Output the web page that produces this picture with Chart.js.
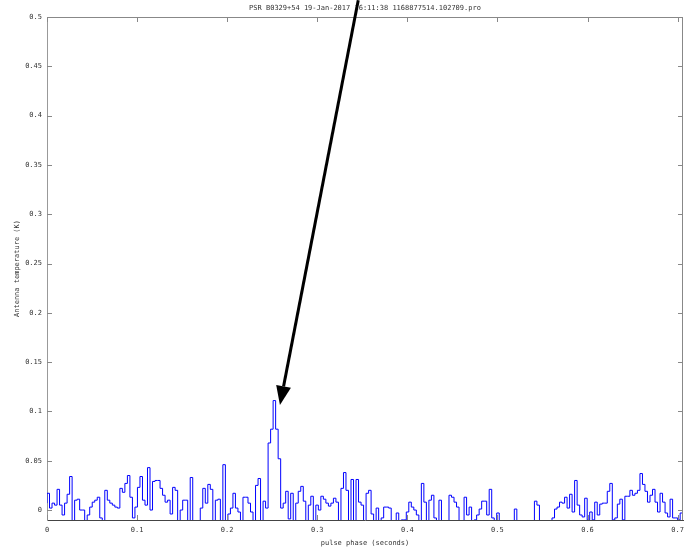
<!DOCTYPE html>
<html>
<head>
<meta charset="utf-8">
<script src="https://cdn.jsdelivr.net/npm/chart.js@4.4.1/dist/chart.umd.min.js"></script>
<style>
  html, body { margin: 0; padding: 0; background: #fff; }
  #caixa { width: 684px; height: 552px; }
</style>
</head>
<body>
<div id="caixa"><canvas id="pulsar"></canvas></div>
<script>
// Dados (temperatura por bin de fase)
const titulo = 'PSR B0329+54 19-Jan-2017 16:11:38 1168877514.102709.pro';
const tituloX = 'pulse phase (seconds)';
const tituloY = 'Antenna temperature (K)';
const passoBin = 0.002789; // segundos por bin
const temperaturas = [
  0.007, 0.017, 0.002, 0.007, 0.005, 0.021, 0.005, -0.005, 0.007, 0.016,
  0.034, -0.012, 0.010, 0.011, 0.000, 0.000, -0.012, -0.005, 0.003, 0.008,
  0.010, 0.013, -0.008, -0.012, 0.020, 0.010, 0.007, 0.005, 0.003, 0.002,
  0.022, 0.018, 0.027, 0.035, 0.013, -0.008, 0.003, 0.023, 0.034, 0.010,
  0.005, 0.043, 0.000, 0.029, 0.030, 0.030, 0.022, 0.015, 0.008, 0.010,
  -0.004, 0.023, 0.020, -0.012, 0.000, 0.010, 0.010, -0.012, 0.033, -0.012,
  -0.012, -0.012, 0.002, 0.022, 0.007, 0.026, 0.021, -0.012, 0.010, 0.011,
  -0.012, 0.046, -0.012, -0.004, 0.002, 0.017, 0.002, -0.002, -0.012, 0.013,
  0.013, 0.007, -0.002, -0.012, 0.025, 0.032, -0.012, 0.009, 0.002, 0.068,
  0.082, 0.111, 0.082, 0.052, 0.002, 0.007, 0.019, -0.009, 0.017, -0.012,
  0.007, 0.019, 0.024, 0.009, -0.012, 0.005, 0.014, -0.012, 0.005, 0.000,
  0.014, 0.011, 0.007, 0.004, 0.007, 0.012, 0.008, -0.012, 0.022, 0.038,
  0.020, -0.012, 0.031, -0.012, 0.031, 0.008, 0.005, -0.012, 0.017, 0.020,
  -0.004, -0.012, 0.002, -0.012, -0.008, 0.003, 0.003, 0.002, -0.012, -0.012,
  -0.003, -0.012, -0.010, -0.010, -0.002, 0.008, 0.003, 0.000, -0.005, -0.012,
  0.027, 0.008, -0.012, 0.010, 0.015, -0.008, -0.012, 0.010, -0.012, -0.012,
  -0.012, 0.015, 0.013, 0.008, 0.003, -0.012, -0.012, 0.013, -0.005, 0.003,
  -0.012, -0.010, -0.005, 0.001, 0.009, 0.009, -0.005, 0.021, -0.008, -0.012,
  -0.003, -0.012, -0.012, -0.012, -0.012, -0.012, -0.012, 0.001, -0.012, -0.012,
  -0.012, -0.012, -0.012, -0.012, -0.012, 0.009, 0.005, -0.012, -0.012, -0.012,
  -0.012, -0.012, -0.008, 0.001, 0.003, 0.008, 0.007, 0.013, 0.002, 0.016,
  -0.002, 0.030, 0.005, -0.005, -0.007, 0.012, -0.010, -0.002, -0.010, 0.008,
  -0.005, 0.006, 0.007, 0.007, 0.019, 0.027, -0.010, -0.008, 0.006, 0.011,
  -0.010, 0.014, 0.014, 0.020, 0.015, 0.017, 0.020, 0.037, 0.026, 0.019,
  0.008, 0.015, 0.021, 0.008, -0.002, 0.017, 0.008, -0.003, -0.007, 0.011,
  -0.008, -0.008, -0.010, -0.003
];
const ticksX = [0, 0.1, 0.2, 0.3, 0.4, 0.5, 0.6, 0.7];
const ticksY = [0, 0.05, 0.1, 0.15, 0.2, 0.25, 0.3, 0.35, 0.4, 0.45, 0.5];
const faixaX = [0, 0.706];
const faixaY = [-0.0101, 0.5];
// seta em coordenadas de dados: [fase, temperatura]
const setaInicio = [0.3455, 0.517];
const setaFim = [0.2586, 0.1065];

const fonte = { family: 'DejaVu Sans Mono', size: 7 };
const corTexto = '#333';

// pontos do histograma (degraus)
const pontos = temperaturas.map((t, i) => ({ x: i * passoBin, y: t }));
pontos.push({ x: temperaturas.length * passoBin, y: temperaturas[temperaturas.length - 1] });

// ticks para dentro, moldura, título e seta
const extras = {
  id: 'extras',
  afterDatasetsDraw(chart) {
    const ctx = chart.ctx;
    const a = chart.chartArea;
    const sx = chart.scales.x, sy = chart.scales.y;
    ctx.save();
    ctx.strokeStyle = '#888';
    ctx.lineWidth = 1;
    ctx.beginPath();
    ctx.moveTo(a.left + 0.5, a.top + 0.5);
    ctx.lineTo(a.right - 0.5, a.top + 0.5);
    ctx.lineTo(a.right - 0.5, a.bottom);
    ctx.stroke();
    ctx.beginPath();
    ticksX.forEach(v => {
      const px = Math.round(sx.getPixelForValue(v)) + 0.5;
      ctx.moveTo(px, a.bottom); ctx.lineTo(px, a.bottom - 5);
      ctx.moveTo(px, a.top); ctx.lineTo(px, a.top + 5);
    });
    ticksY.forEach(v => {
      const py = Math.round(sy.getPixelForValue(v)) + 0.5;
      ctx.moveTo(a.left, py); ctx.lineTo(a.left + 5, py);
      ctx.moveTo(a.right, py); ctx.lineTo(a.right - 5, py);
    });
    ctx.stroke();
    // título
    ctx.fillStyle = corTexto;
    ctx.font = fonte.size + 'px ' + fonte.family;
    ctx.textAlign = 'center';
    ctx.textBaseline = 'middle';
    ctx.fillText(titulo, (a.left + a.right) / 2, 8);
    ctx.restore();
  },
  afterDraw(chart) {
    const ctx = chart.ctx;
    const sx = chart.scales.x, sy = chart.scales.y;
    const x0 = sx.getPixelForValue(setaInicio[0]), y0 = sy.getPixelForValue(setaInicio[1]);
    const x1 = sx.getPixelForValue(setaFim[0]), y1 = sy.getPixelForValue(setaFim[1]);
    const ang = Math.atan2(y1 - y0, x1 - x0);
    const comp = 19, larg = 7.5;
    const bx = x1 - comp * Math.cos(ang), by = y1 - comp * Math.sin(ang);
    ctx.save();
    ctx.strokeStyle = '#000';
    ctx.fillStyle = '#000';
    ctx.lineWidth = 3;
    ctx.beginPath();
    ctx.moveTo(x0, y0);
    ctx.lineTo(bx, by);
    ctx.stroke();
    ctx.beginPath();
    ctx.moveTo(x1, y1);
    ctx.lineTo(bx + larg * Math.sin(ang), by - larg * Math.cos(ang));
    ctx.lineTo(bx - larg * Math.sin(ang), by + larg * Math.cos(ang));
    ctx.closePath();
    ctx.fill();
    ctx.restore();
  }
};

new Chart(document.getElementById('pulsar'), {
  type: 'line',
  data: {
    datasets: [{
      data: pontos,
      borderColor: 'rgb(0,0,255)',
      borderWidth: 1,
      pointRadius: 0,
      stepped: 'after',
      fill: false
    }]
  },
  options: {
    responsive: true,
    maintainAspectRatio: false,
    animation: false,
    layout: { padding: { top: 17, right: 1, left: 0, bottom: 0 } },
    plugins: { legend: { display: false }, tooltip: { enabled: false } },
    scales: {
      x: {
        type: 'linear',
        min: faixaX[0], max: faixaX[1],
        afterBuildTicks: s => { s.ticks = ticksX.map(v => ({ value: v })); },
        afterFit: s => { s.height = 32; s.paddingLeft = 0; s.paddingRight = 0; },
        grid: { display: false, drawTicks: false },
        border: { color: '#444' },
        ticks: { font: fonte, color: corTexto, padding: 6, maxRotation: 0,
                 callback: v => String(v) },
        title: { display: true, text: tituloX, font: fonte, color: corTexto,
                 padding: { top: 0, bottom: 5 } }
      },
      y: {
        min: faixaY[0], max: faixaY[1],
        afterBuildTicks: s => { s.ticks = ticksY.map(v => ({ value: v })); },
        afterFit: s => { s.width = 47; s.paddingTop = 0; s.paddingBottom = 0; },
        grid: { display: false, drawTicks: false },
        border: { color: '#999' },
        ticks: { font: fonte, color: corTexto, padding: 5,
                 callback: v => String(v) },
        title: { display: true, text: tituloY, font: fonte, color: corTexto,
                 padding: { top: 13, bottom: 0 } }
      }
    }
  },
  plugins: [extras]
});
</script>
</body>
</html>
